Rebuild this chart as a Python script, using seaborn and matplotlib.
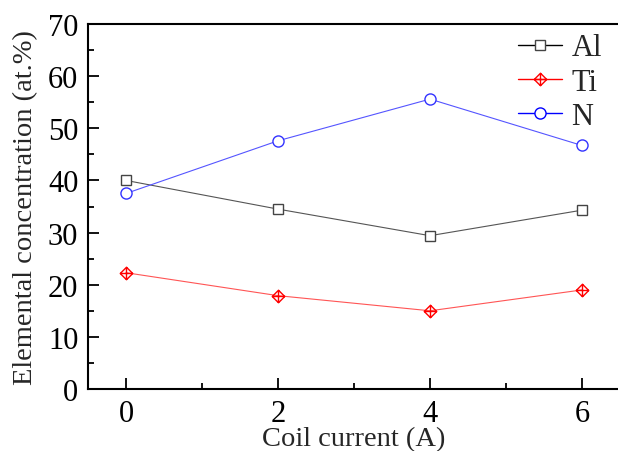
import matplotlib
matplotlib.use("Agg")
import matplotlib.pyplot as plt
import seaborn as sns
import numpy as np
from matplotlib.path import Path
from matplotlib.lines import Line2D
from matplotlib.ticker import MultipleLocator

current = [0, 2, 4, 6]
al = [40.0, 34.5, 29.4, 34.3]
ti = [22.3, 17.9, 15.0, 19.0]
n = [37.5, 47.6, 55.6, 46.7]

sns.set_theme(style="ticks")
plt.rcParams["font.family"] = ["Liberation Serif", "DejaVu Serif"]
plt.rcParams["mathtext.fontset"] = "stix"

fig = plt.figure(figsize=(6.18, 4.52), dpi=100)
ax = fig.add_axes([88/618, 62/452, 532/618, 365/452])

# diamond with cross marker
diamond_cross = Path(
    [(0, 1), (1, 0), (0, -1), (-1, 0), (0, 1), (0, -1), (-1, 0), (1, 0)],
    [Path.MOVETO, Path.LINETO, Path.LINETO, Path.LINETO, Path.LINETO,
     Path.LINETO, Path.MOVETO, Path.LINETO])

sns.lineplot(x=current, y=al, ax=ax, color="#555555", lw=0.8, marker="s",
             markersize=7, mfc="white", mec="#444444", mew=1.0, legend=False)
sns.lineplot(x=current, y=ti, ax=ax, color="#ff5555", lw=0.8, marker=diamond_cross,
             markersize=9, mfc="none", mec="red", mew=1.0, legend=False)
sns.lineplot(x=current, y=n, ax=ax, color="#5555ff", lw=0.8, marker="o",
             markersize=8, mfc="white", mec="#3333ff", mew=1.0, legend=False)

handles = [
    Line2D([], [], color="black", lw=1.0, marker="s", markersize=7, mfc="white", mec="#444444"),
    Line2D([], [], color="red", lw=1.0, marker=diamond_cross, markersize=9, mfc="none", mec="red"),
    Line2D([], [], color="blue", lw=1.0, marker="o", markersize=8, mfc="white", mec="blue"),
]
ax.legend(handles, ["Al", "Ti", "N"], loc="upper right", frameon=False,
          fontsize=22, handlelength=1.45, labelspacing=0.17,
          bbox_to_anchor=(0.966, 0.974), borderpad=0, borderaxespad=0,
          handletextpad=0.3)

ax.set_xlim(-0.5, 6.5)
ax.set_ylim(0, 70)
ax.set_xticks(current)
ax.xaxis.set_minor_locator(MultipleLocator(1))
ax.yaxis.set_major_locator(MultipleLocator(10))
ax.yaxis.set_minor_locator(MultipleLocator(5))
ax.tick_params(which="both", direction="in", width=1.3, colors="black", labelsize=22)
ax.tick_params(which="major", length=8, pad=7)
ax.tick_params(which="minor", length=4)
for s in ["left", "bottom", "top"]:
    ax.spines[s].set_linewidth(1.5)
    ax.spines[s].set_color("black")
ax.spines["right"].set_visible(False)

ax.set_xlabel("Coil current (A)", fontsize=20.5, labelpad=-1)
ax.set_ylabel("Elemental concentration (at.%)", fontsize=20.5, labelpad=7)

fig.savefig("out.png", dpi=100)
